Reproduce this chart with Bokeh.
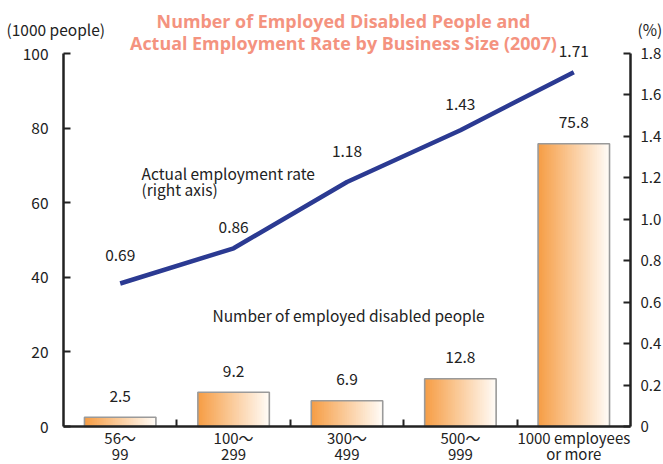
from bokeh.plotting import figure
from bokeh.models import Range1d, LinearAxis, FixedTicker, Label, ColumnDataSource
from bokeh.embed import file_html
from bokeh.resources import INLINE
from bokeh.core.properties import value

categories = ["56〜\n99", "100〜\n299", "300〜\n499", "500〜\n999", "1000 employees\nor more"]
employed = [2.5, 9.2, 6.9, 12.8, 75.8]
rate = [0.69, 0.86, 1.18, 1.43, 1.71]
left_ticks = [0, 20, 40, 60, 80, 100]
right_ticks = [0, 0.2, 0.4, 0.6, 0.8, 1.0, 1.2, 1.4, 1.6, 1.8]
right_tick_labels = ["0", "0.2", "0.4", "0.6", "0.8", "1.0", "1.2", "1.4", "1.6", "1.8"]

# label placement above the line points (pixels), as in the original layout
rate_label_offsets = [-29, -21, -31, -26, -21]

FONT = "Noto Sans CJK JP"
TXT = "#222222"
FS = "15.5px"

W, H = 663, 464
# plot box (pixels from top-left) inside which the axes are drawn
BOX_L, BOX_R, BOX_T, BOX_B = 63, 630, 53, 426
n = len(categories)
ux = (BOX_R - BOX_L) / n           # px per category
uy = (BOX_B - BOX_T) / 100.0       # px per 1000 people
x0 = -0.5 - BOX_L / ux
x1 = n - 0.5 + (W - BOX_R) / ux
y0 = -(H - BOX_B) / uy
y1 = BOX_B / uy
rmax = 1.8

p = figure(width=W, height=H, output_backend="svg", toolbar_location=None,
           x_range=Range1d(x0, x1), y_range=Range1d(y0, y1),
           min_border=0, x_axis_type=None, y_axis_type=None)
p.outline_line_color = None
p.xgrid.visible = False
p.ygrid.visible = False
p.extra_y_ranges = {"rate": Range1d(y0 * rmax / 100, y1 * rmax / 100)}

def px2x(px):
    return x0 + px / ux

def px2y(py):
    return y1 - py / uy

# gradient bars: overlapping slices, each lighter slice drawn over the previous one
n_sl = 40
bw = 0.63
c0 = (246, 158, 70)
c1 = (255, 251, 246)
lefts, rights, tops, cols = [], [], [], []
for i, v in enumerate(employed):
    bl = i - bw / 2
    for k in range(n_sl):
        t = k / (n_sl - 1)
        lefts.append(bl + bw * k / n_sl)
        rights.append(bl + bw)
        tops.append(v)
        cols.append("#%02x%02x%02x" % tuple(int(round(a + (b - a) * t)) for a, b in zip(c0, c1)))
p.quad(left=lefts, right=rights, bottom=0, top=tops, fill_color=cols, line_color=None)
xs = list(range(n))
p.vbar(x=xs, top=employed, width=bw, fill_color=None, line_color="#9a9a9a", line_width=1.6)

# bar labels
p.text(x=xs, y=employed, text=[str(v) for v in employed], text_align="center",
       text_baseline="middle", y_offset=-21.5, text_font=value(FONT), text_font_size=FS,
       text_color=TXT)

# rate line
p.line(x=xs, y=rate, y_range_name="rate", line_color="#2B3A92", line_width=4.5)
rsrc = ColumnDataSource(dict(x=xs, y=rate, t=["%.2f" % v for v in rate], off=rate_label_offsets))
p.text(x="x", y="y", text="t", y_offset="off", source=rsrc, y_range_name="rate",
       text_align="center", text_baseline="middle", text_font=value(FONT),
       text_font_size=FS, text_color=TXT)

# axes (fixed in data space, so they take no border room)
def style(ax):
    ax.axis_line_color = "#222222"
    ax.axis_line_width = 2.5
    ax.major_tick_line_color = "#222222"
    ax.major_tick_line_width = 2
    ax.major_tick_in = 7
    ax.major_tick_out = 0
    ax.minor_tick_line_color = None
    ax.major_label_text_font = FONT
    ax.major_label_text_font_size = FS
    ax.major_label_text_color = TXT

la = LinearAxis(ticker=FixedTicker(ticks=left_ticks), fixed_location=-0.5, bounds=(0, 100))
style(la)
la.major_label_standoff = 15
p.add_layout(la, "left")

ra = LinearAxis(y_range_name="rate", ticker=FixedTicker(ticks=right_ticks),
                fixed_location=n - 0.5, bounds=(0, rmax))
style(ra)
ra.major_label_overrides = {t: s for t, s in zip(right_ticks, right_tick_labels)}
ra.major_label_standoff = 10
ra.major_label_text_font_size = "15px"
p.add_layout(ra, "right")

xa = LinearAxis(ticker=FixedTicker(ticks=xs, minor_ticks=[0.5, 1.5, 2.5, 3.5]),
                fixed_location=0, bounds=(-0.5, n - 0.5))
style(xa)
xa.major_label_overrides = {i: c for i, c in enumerate(categories)}
xa.major_tick_line_color = None
xa.minor_tick_line_color = "#222222"
xa.minor_tick_line_width = 2
xa.minor_tick_in = 7
xa.minor_tick_out = 0
xa.major_label_standoff = 0
xa.major_label_text_font_size = "15px"
xa.major_label_text_line_height = 0.78
p.add_layout(xa, "below")

# annotations
def lab(px, py, text, **kw):
    opts = dict(text_font=FONT, text_font_size=FS, text_color=TXT, text_baseline="middle")
    opts.update(kw)
    p.add_layout(Label(x=px2x(px), y=px2y(py), text=text, **opts))

lab(141, 172, "Actual employment rate")
lab(141, 188, "(right axis)")
lab(212, 314, "Number of employed disabled people")
lab(6, 28, "(1000 people)")
lab(637, 28, "(%)")

TC = "#F4937F"
lab(343, 20, "Number of Employed Disabled People and", text_font="Open Sans",
    text_font_style="bold", text_font_size="17.9px", text_color=TC, text_align="center")
lab(343, 42, "Actual Employment Rate by Business Size (2007)", text_font="Open Sans",
    text_font_style="bold", text_font_size="17.9px", text_color=TC, text_align="center")

open("out.html", "w").write(file_html(p, INLINE))
